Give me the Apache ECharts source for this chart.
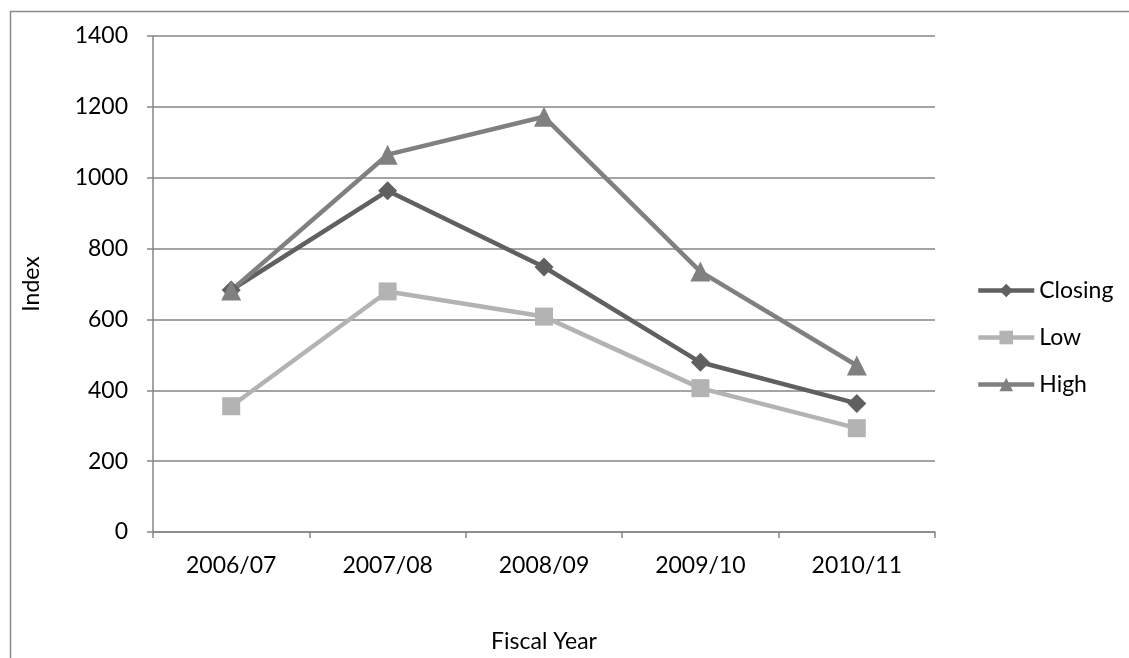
<!DOCTYPE html>
<html>
<head>
<meta charset="utf-8">
<script src="https://cdn.jsdelivr.net/npm/echarts@6/dist/echarts.min.js"></script>
<style>
html,body{margin:0;padding:0;background:#fff;}
#chart{width:1129px;height:658px;}
</style>
</head>
<body>
<div id="chart"></div>
<script>
var categories = ['2006/07', '2007/08', '2008/09', '2009/10', '2010/11'];
var closing = [683, 963, 748, 479, 363];
var low = [355, 679, 608, 406, 293];
var high = [682, 1065, 1172, 735, 470];
var yTicks = { min: 0, max: 1400, interval: 200 };

var FONT = 'Lato, "Open Sans", sans-serif';
var FS = 23;
var chart = echarts.init(document.getElementById('chart'));
chart.setOption({
  animation: false,
  backgroundColor: '#fff',
  graphic: [{
    type: 'rect', left: 8, top: 9,
    shape: { width: 1200, height: 700 },
    style: { fill: 'none', stroke: '#8a8a8a', lineWidth: 1.5 }
  }],
  grid: { left: 153, top: 36, width: 782, height: 497 },
  legend: {
    orient: 'vertical', left: 971, top: 274,
    itemGap: 24, itemWidth: 56, itemHeight: 17,
    lineStyle: { width: 4.5 },
    textStyle: { fontFamily: FONT, fontSize: FS, color: '#000' },
    data: ['Closing', 'Low', 'High']
  },
  xAxis: {
    type: 'category', data: categories, boundaryGap: true,
    name: 'Fiscal Year', nameLocation: 'middle', nameGap: 98,
    nameTextStyle: { fontFamily: FONT, fontSize: FS, color: '#000' },
    axisLine: { lineStyle: { color: '#868686', width: 1.5 } },
    axisTick: { show: true, length: 6, lineStyle: { color: '#868686', width: 1.5 } },
    axisLabel: { fontFamily: FONT, fontSize: FS, color: '#000', margin: 22 }
  },
  yAxis: {
    type: 'value', min: yTicks.min, max: yTicks.max, interval: yTicks.interval,
    name: 'Index', nameLocation: 'middle', nameGap: 110,
    nameTextStyle: { fontFamily: FONT, fontSize: FS, color: '#000' },
    axisLine: { show: true, lineStyle: { color: '#868686', width: 1.5 } },
    axisTick: { show: true, length: 6, lineStyle: { color: '#868686', width: 1.5 } },
    axisLabel: { fontFamily: FONT, fontSize: FS, color: '#000', margin: 25,
      formatter: function (v) { return String(v); } },
    splitLine: { lineStyle: { color: '#868686', width: 1.5 } }
  },
  series: [
    { name: 'Closing', type: 'line', data: closing, symbol: 'diamond', symbolSize: 19,
      lineStyle: { color: '#606060', width: 4.5 }, itemStyle: { color: '#606060' } },
    { name: 'Low', type: 'line', data: low, symbol: 'rect', symbolSize: 18,
      lineStyle: { color: '#b3b3b3', width: 4.5 }, itemStyle: { color: '#b3b3b3' } },
    { name: 'High', type: 'line', data: high, symbol: 'triangle', symbolSize: 20,
      lineStyle: { color: '#808080', width: 4.5 }, itemStyle: { color: '#808080' } }
  ]
});
</script>
</body>
</html>
